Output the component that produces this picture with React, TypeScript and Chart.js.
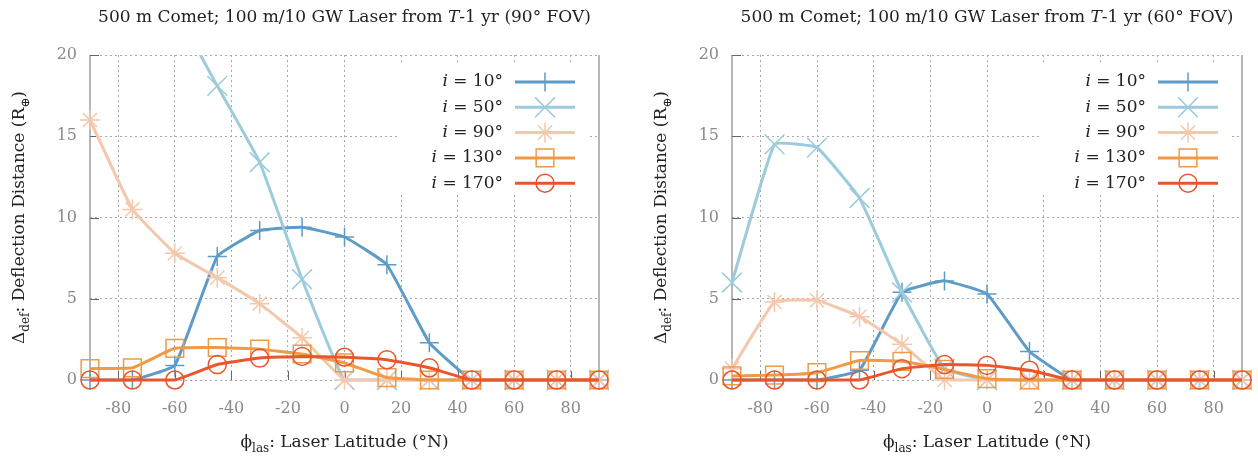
import React, { useEffect, useRef } from 'react';
import { Chart, registerables } from 'chart.js';

Chart.register(...registerables);

// ---------- data ----------
const latitudes = [-90, -75, -60, -45, -30, -15, 0, 15, 30, 45, 60, 75, 90];
const xTickValues = [-80, -60, -40, -20, 0, 20, 40, 60, 80];
const yTickValues = [0, 5, 10, 15, 20];
const inclinationLabels = ['10°', '50°', '90°', '130°', '170°'];

// 90° FOV panel
const fov90_i10 = [0, 0, 0.9, 7.6, 9.2, 9.4, 8.8, 7.1, 2.3, 0, 0, 0, 0];
const fov90_i50 = [27, 25.5, 22.8, 18.1, 13.4, 6.2, 0, 0, 0, 0, 0, 0, 0];
const fov90_i90 = [16.0, 10.5, 7.8, 6.3, 4.7, 2.6, 0, 0, 0, 0, 0, 0, 0];
const fov90_i130 = [0.7, 0.75, 1.95, 2.0, 1.9, 1.6, 1.05, 0.15, 0, 0, 0, 0, 0];
const fov90_i170 = [0, 0, 0, 0.95, 1.35, 1.45, 1.4, 1.25, 0.75, 0, 0, 0, 0];

// 60° FOV panel
const fov60_i10 = [0, 0, 0, 0.6, 5.4, 6.1, 5.3, 1.75, 0, 0, 0, 0, 0];
const fov60_i50 = [6.0, 14.5, 14.3, 11.2, 5.4, 0.7, 0, 0, 0, 0, 0, 0, 0];
const fov60_i90 = [0.7, 4.8, 4.9, 3.9, 2.2, 0, 0, 0, 0, 0, 0, 0, 0];
const fov60_i130 = [0.25, 0.3, 0.45, 1.2, 1.15, 0.65, 0.08, 0, 0, 0, 0, 0, 0];
const fov60_i170 = [0, 0, 0, 0, 0.7, 0.95, 0.9, 0.6, 0, 0, 0, 0, 0];

// ---------- styles ----------
const FONT = '"DejaVu Serif", serif';
const colors = ['#5e9bc6', '#9ccbdc', '#f4c8ac', '#f09a45', '#e9562c'];
const pointStyles = ['cross', 'crossRot', 'star', 'rect', 'circle'];
const pointRadii = [9.5, 14, 10, 12.5, 9];
const GRID = '#a8a8a8';
const TICK = '#8a8a8a';
const TEXT_SIZE = 17;

type Part = { t: string; it?: boolean; sub?: boolean };

function drawRich(ctx: CanvasRenderingContext2D, parts: Part[], x: number, y: number, size: number, color: string, align: 'center' | 'right' | 'left') {
  const fontFor = (p: Part) => `${p.it ? 'italic ' : ''}${p.sub ? Math.round(size * 0.72) : size}px ${FONT}`;
  let total = 0;
  const widths = parts.map((p) => {
    ctx.font = fontFor(p);
    const w = ctx.measureText(p.t).width;
    total += w;
    return w;
  });
  let cx = align === 'center' ? x - total / 2 : align === 'right' ? x - total : x;
  ctx.fillStyle = color;
  ctx.textBaseline = 'middle';
  ctx.textAlign = 'left';
  parts.forEach((p, i) => {
    ctx.font = fontFor(p);
    ctx.fillText(p.t, cx, y + (p.sub ? size * 0.32 : 0));
    cx += widths[i];
  });
}

function drawMarker(ctx: CanvasRenderingContext2D, style: string, x: number, y: number, r: number) {
  const d = r * Math.SQRT1_2;
  ctx.beginPath();
  if (style === 'cross' || style === 'star') {
    ctx.moveTo(x, y - r); ctx.lineTo(x, y + r);
    ctx.moveTo(x - r, y); ctx.lineTo(x + r, y);
  }
  if (style === 'crossRot' || style === 'star') {
    ctx.moveTo(x - d, y - d); ctx.lineTo(x + d, y + d);
    ctx.moveTo(x - d, y + d); ctx.lineTo(x + d, y - d);
  }
  if (style === 'rect') ctx.rect(x - d, y - d, 2 * d, 2 * d);
  if (style === 'circle') ctx.arc(x, y, r, 0, Math.PI * 2);
  ctx.stroke();
}

type PanelProps = {
  fov: string;
  series: number[][];
  plotLeft: number;
  plotRight: number;
};

const W = 629;
const H = 458;
const PLOT_TOP = 55;
const PLOT_BOTTOM = 380;

function Panel({ fov, series, plotLeft, plotRight }: PanelProps) {
  const ref = useRef<HTMLCanvasElement>(null);
  useEffect(() => {
    if (!ref.current) return;
    const titleParts: Part[] = [
      { t: '500 m Comet; 100 m/10 GW Laser from ' },
      { t: 'T', it: true },
      { t: `-1 yr (${fov} FOV)` },
    ];
    const decor = {
      id: 'decor',
      beforeDatasetsDraw(chart: any) {
        const { ctx, chartArea: a } = chart;
        ctx.save();
        ctx.setLineDash([]);
        ctx.strokeStyle = '#a0a0a0';
        ctx.lineWidth = 1.5;
        ctx.beginPath();
        ctx.moveTo(a.left, a.top); ctx.lineTo(a.left, a.bottom);
        ctx.moveTo(a.right, a.top); ctx.lineTo(a.right, a.bottom);
        ctx.stroke();
        ctx.strokeStyle = '#666';
        ctx.lineWidth = 1;
        ctx.beginPath();
        yTickValues.forEach((v) => {
          const y = Math.round(chart.scales.y.getPixelForValue(v)) + 0.5;
          ctx.moveTo(a.left, y); ctx.lineTo(a.left + 9, y);
        });
        xTickValues.forEach((v) => {
          const x = Math.round(chart.scales.x.getPixelForValue(v)) + 0.5;
          ctx.moveTo(x, a.bottom); ctx.lineTo(x, a.bottom - 9);
        });
        ctx.stroke();
        ctx.restore();
      },
      afterDatasetsDraw(chart: any) {
        const { ctx, chartArea: a } = chart;
        ctx.save();
        ctx.fillStyle = '#ffffff';
        ctx.fillRect(a.right - 200, a.top + 8, 189, 131);
        inclinationLabels.forEach((lab, k) => {
          const y = a.top + 27 + k * 25.3;
          drawRich(ctx, [{ t: 'i', it: true }, { t: ` = ${lab}` }], a.right - 96, y, TEXT_SIZE, '#222', 'right');
          ctx.strokeStyle = colors[k];
          ctx.lineWidth = 3;
          ctx.setLineDash([]);
          ctx.beginPath();
          ctx.moveTo(a.right - 84, y); ctx.lineTo(a.right - 24, y);
          ctx.stroke();
          ctx.lineWidth = 1.5;
          drawMarker(ctx, pointStyles[k], a.right - 54, y, pointRadii[k]);
        });
        ctx.restore();
      },
      afterDraw(chart: any) {
        const { ctx, chartArea: a } = chart;
        ctx.save();
        const cx = (a.left + a.right) / 2;
        drawRich(ctx, titleParts, cx, 18, TEXT_SIZE, '#222', 'center');
        drawRich(ctx, [{ t: 'ϕ' }, { t: 'las', sub: true }, { t: ': Laser Latitude (°N)' }], cx, 443, TEXT_SIZE, '#222', 'center');
        ctx.translate(a.left - 70, (a.top + a.bottom) / 2);
        ctx.rotate(-Math.PI / 2);
        drawRich(ctx, [{ t: 'Δ' }, { t: 'def', sub: true }, { t: ': Deflection Distance (R' }, { t: '⊕', sub: true }, { t: ')' }], 0, 0, TEXT_SIZE, '#222', 'center');
        ctx.restore();
      },
    };

    const datasets = series.map((vals, k) => ({
      label: `i = ${inclinationLabels[k]}`,
      data: vals.map((v, i) => ({ x: latitudes[i], y: v })),
      borderColor: colors[k],
      borderWidth: 3,
      pointStyle: pointStyles[k],
      pointRadius: pointRadii[k],
      pointBorderWidth: 1.5,
      pointBorderColor: colors[k],
      pointBackgroundColor: 'rgba(0,0,0,0)',
      tension: 0.1,
      borderJoinStyle: 'round',
      fill: false,
      clip: { left: 20, right: 20, top: 0, bottom: 20 },
      order: series.length - 1 - k,
    }));

    const chart = new Chart(ref.current, {
      type: 'line',
      data: { datasets } as any,
      options: {
        responsive: false,
        animation: false,
        devicePixelRatio: 1,
        events: [],
        layout: { padding: { left: 0, right: W - plotRight, top: PLOT_TOP, bottom: 0 } },
        plugins: { legend: { display: false }, tooltip: { enabled: false }, title: { display: false } },
        scales: {
          x: {
            type: 'linear',
            min: -90,
            max: 90,
            afterBuildTicks: (s: any) => { s.ticks = xTickValues.map((v) => ({ value: v })); },
            afterFit: (s: any) => { s.height = H - PLOT_BOTTOM; },
            grid: { color: GRID, lineWidth: 1, drawTicks: false },
            border: { display: false, dash: [2, 3] },
            ticks: { padding: 19, color: TICK, font: { family: FONT, size: 16 }, autoSkip: false, maxRotation: 0, callback: (v: any) => String(v) },
          },
          y: {
            type: 'linear',
            min: 0,
            max: 20,
            afterBuildTicks: (s: any) => { s.ticks = yTickValues.map((v) => ({ value: v })); },
            afterFit: (s: any) => { s.width = plotLeft; },
            grid: { color: GRID, lineWidth: 1, drawTicks: false },
            border: { display: false, dash: [2, 3] },
            ticks: { padding: 13, color: TICK, font: { family: FONT, size: 16 }, callback: (v: any) => String(v) },
          },
        },
      } as any,
      plugins: [decor],
    });
    return () => chart.destroy();
  }, []);
  return <canvas ref={ref} width={W} height={H} style={{ display: 'block', width: W, height: H }} />;
}

export default function App() {
  return (
    <div style={{ position: 'absolute', left: 0, top: 0, width: 1258, height: 458, display: 'flex', background: '#fff' }}>
      <Panel fov="90°" series={[fov90_i10, fov90_i50, fov90_i90, fov90_i130, fov90_i170]} plotLeft={90} plotRight={599} />
      <Panel fov="60°" series={[fov60_i10, fov60_i50, fov60_i90, fov60_i130, fov60_i170]} plotLeft={103} plotRight={613} />
    </div>
  );
}
